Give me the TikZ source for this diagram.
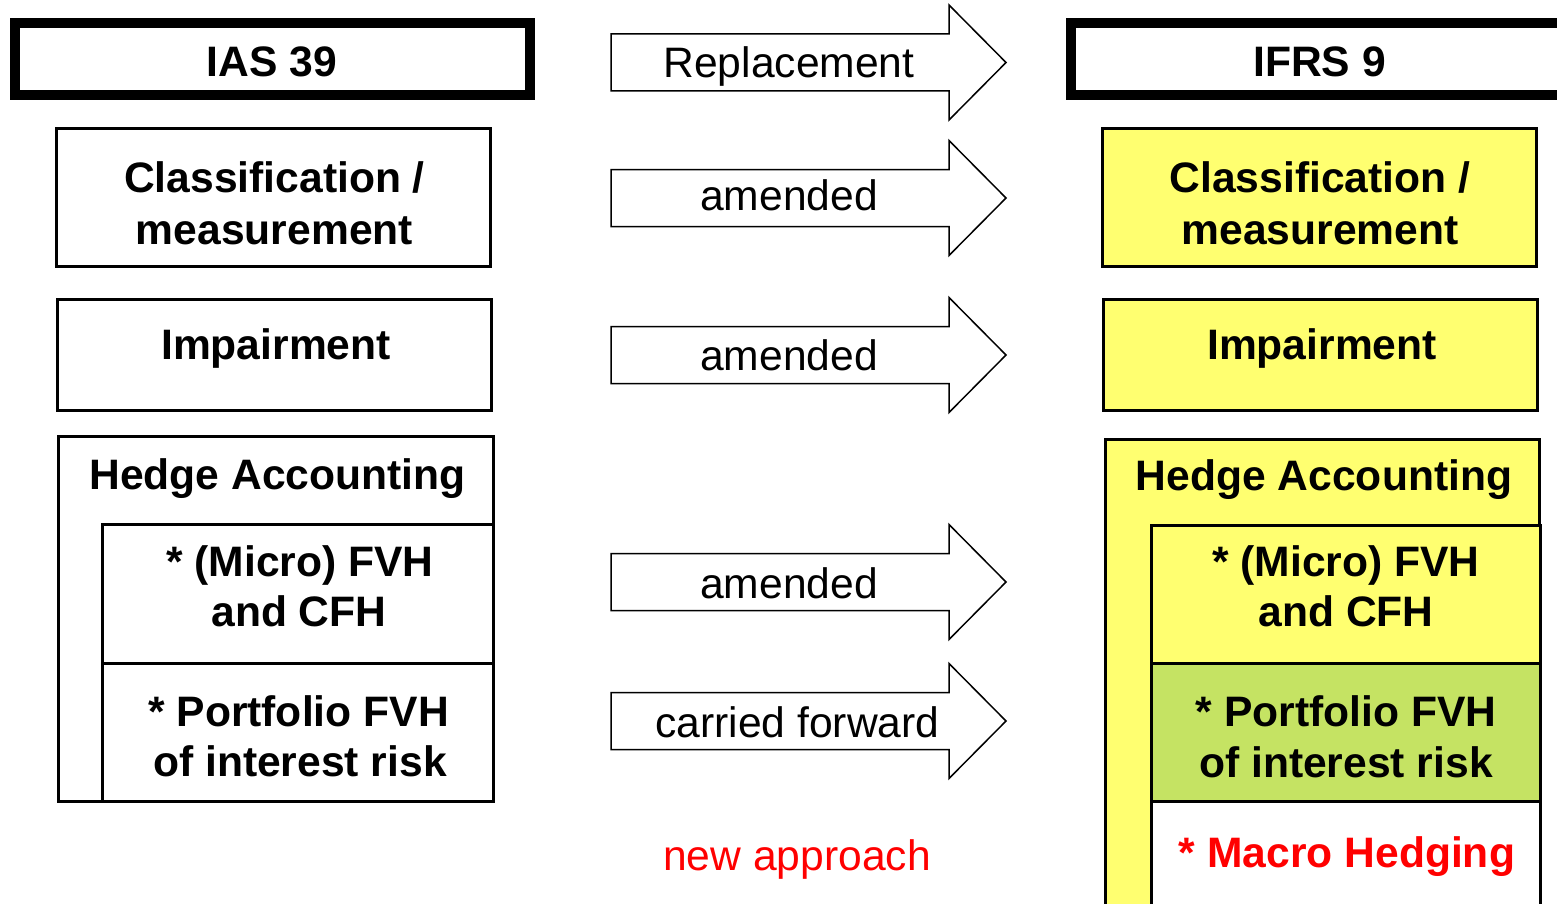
\documentclass[tikz,border=0pt]{standalone}
\usepackage{fontspec}
\setmainfont[Ligatures=CommonOff]{Liberation Sans}
\definecolor{lyellow}{RGB}{255,255,112}
\definecolor{lgreen}{RGB}{197,227,99}
\tikzset{
  hdr/.style={draw, line width=5pt, inner sep=0pt, fill=white},
  box/.style={draw, line width=1.5pt, inner sep=0pt},
  blk/.style={draw, line width=0.75pt, fill=white, line join=miter},
  bt/.style={font=\fontsize{21.3}{26}\selectfont\bfseries, anchor=base, inner sep=0pt},
  arrt/.style={font=\fontsize{21.3}{26}\selectfont, anchor=base, inner sep=0pt},
}
\begin{document}
\begin{tikzpicture}[x=0.5pt,y=-0.5pt]
\useasboundingbox (0,0) rectangle (1557,904);
\clip (0,0) rectangle (1557,904);
\fill[white] (0,0) rectangle (1557,904);

% header boxes
\node[hdr, minimum width=257.5pt, minimum height=36pt] (ias) at (272.5,59) {};
\node[hdr, minimum width=284.5pt, minimum height=36pt] (ifrs) at (1355.5,59) {};
\node[bt] (iast) at (272,76) {IAS 39};
\node[bt] (ifrst) at (1319.5,76) {IFRS 9};

% classification
\node[box, fill=white, minimum width=217pt, minimum height=69pt] (clL) at (273.5,197.5) {};
\node[box, fill=lyellow, minimum width=217pt, minimum height=69pt] (clR) at (1319.5,197.5) {};
\node[bt] (clL1) at (274.5,192) {Classification /};
\node[bt] (clL2) at (274.5,244) {measurement};
\node[bt] (clR1) at (1320,192) {Classification /};
\node[bt] (clR2) at (1320,244) {measurement};

% impairment
\node[box, fill=white, minimum width=217pt, minimum height=55.5pt] (imL) at (274.5,355) {};
\node[box, fill=lyellow, minimum width=217pt, minimum height=55.5pt] (imR) at (1320.5,355) {};
\node[bt] (imLt) at (276,359) {Impairment};
\node[bt] (imRt) at (1322,359) {Impairment};

% hedge accounting left
\node[box, fill=white, minimum width=217.5pt, minimum height=182.5pt] (haL) at (276,619) {};
\node[box, fill=white, minimum width=195.5pt, minimum height=69.25pt] (miL) at (298,593.75) {};
\node[box, fill=white, minimum width=195.5pt, minimum height=69.25pt] (poL) at (298,732.25) {};
\node[bt] (haLt) at (277.5,489) {Hedge Accounting};
\node[bt] (miL1) at (300,576) {* (Micro) FVH};
\node[bt] (miL2) at (299,626) {and CFH};
\node[bt] (poL1) at (298.5,726) {* Portfolio FVH};
\node[bt] (poL2) at (300,776) {of interest risk};

% hedge accounting right
\node[box, fill=lyellow, minimum width=217pt, minimum height=280.25pt] (haR) at (1322.5,719.75) {};
\node[box, fill=lyellow, minimum width=194.5pt, minimum height=68.75pt] (miR) at (1346,594.25) {};
\node[box, fill=lgreen, minimum width=194.5pt, minimum height=69pt] (poR) at (1346,732) {};
\node[box, fill=white, minimum width=194.5pt, minimum height=99.5pt] (maR) at (1346,900.5) {};
\node[bt] (haRt) at (1324,490) {Hedge Accounting};
\node[bt] (miR1) at (1346,576) {* (Micro) FVH};
\node[bt] (miR2) at (1346,626) {and CFH};
\node[bt] (poR1) at (1346,726) {* Portfolio FVH};
\node[bt] (poR2) at (1346,777) {of interest risk};
\node[bt, text=red] (maRt) at (1347,867) {* Macro Hedging};

% block arrows
\foreach \t in {62.5,198,355,582,721}{
  \draw[blk] (611,\t-28.5) -- (949,\t-28.5) -- (949,\t-57.5) -- (1006,\t)
    -- (949,\t+57.5) -- (949,\t+28.5) -- (611,\t+28.5) -- cycle;
}
\node[arrt] (a1) at (789,78) {Replacement};
\node[arrt] (a2) at (789,210) {amended};
\node[arrt] (a3) at (789,370) {amended};
\node[arrt] (a4) at (789,598) {amended};
\node[arrt] (a5) at (797.5,737) {carried forward};
\node[arrt, text=red] (na) at (797,870) {new approach};
\end{tikzpicture}
\end{document}
